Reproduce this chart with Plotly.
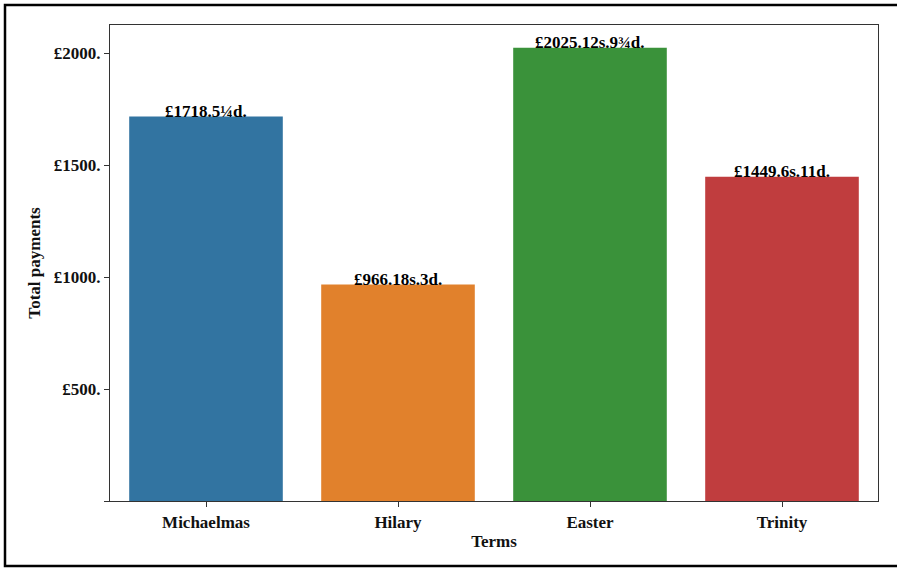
import plotly.graph_objects as go

terms = ["Michaelmas", "Hilary", "Easter", "Trinity"]
payments = [1718.02, 966.91, 2025.64, 1449.35]
labels = ["£1718.5¼d.", "£966.18s.3d.", "£2025.12s.9¾d.", "£1449.6s.11d."]
colors = ["#3274a1", "#e1812c", "#3a923a", "#c03d3e"]
tick_vals = [0, 500, 1000, 1500, 2000]
tick_text = ["", "£500.", "£1000.", "£1500.", "£2000."]

W, H = 897, 569
L, R, T, B = 110, 19, 25, 68
pw, ph = W - L - R, H - T - B

font = dict(family="Liberation Serif, Times New Roman, serif", size=17, color="#111")

fig = go.Figure()
fig.add_trace(go.Bar(x=terms, y=payments, marker=dict(color=colors, line=dict(width=0)),
                     width=0.8, showlegend=False, hoverinfo="skip"))

for t, v, lab in zip(terms, payments, labels):
    fig.add_annotation(x=t, y=v, text="<b>%s</b>" % lab, showarrow=False,
                       yanchor="bottom", yshift=-6, font=dict(font, size=17, color="#000"))

def px_to_paper_x(px):
    return (px - L) / pw

def px_to_paper_y(py):
    return (H - B - py) / ph

fig.add_shape(type="rect", xref="paper", yref="paper",
              x0=px_to_paper_x(5), x1=px_to_paper_x(905),
              y0=px_to_paper_y(566), y1=px_to_paper_y(5),
              line=dict(color="#000", width=2.5), fillcolor="rgba(0,0,0,0)", layer="below")

fig.update_layout(
    width=W, height=H,
    margin=dict(l=L, r=R, t=T, b=B, pad=0),
    paper_bgcolor="white", plot_bgcolor="white",
    font=font,
    bargap=0.2,
    xaxis=dict(range=[-0.5, 3.5], showline=True, mirror=True, linecolor="#333", linewidth=1.3,
               ticks="outside", ticklen=5, tickcolor="#333", showgrid=False,
               tickfont=dict(font, size=17),
               title=dict(text="<b>Terms</b>", font=dict(font, size=17), standoff=4),
               tickprefix="<b>", ticksuffix="</b>"),
    yaxis=dict(range=[0, 2127], showline=True, mirror=True, linecolor="#333", linewidth=1.3,
               ticks="outside", ticklen=5, tickcolor="#333", showgrid=False, zeroline=False,
               tickvals=tick_vals, ticktext=["<b>%s</b>" % s if s else "" for s in tick_text],
               tickfont=dict(font, size=17),
               title=dict(text="<b>Total payments</b>", font=dict(font, size=17), standoff=8)),
)

fig.write_html("out.html", config={"displayModeBar": False},
               post_script="document.body.style.margin='0';document.body.style.overflow='hidden';")
